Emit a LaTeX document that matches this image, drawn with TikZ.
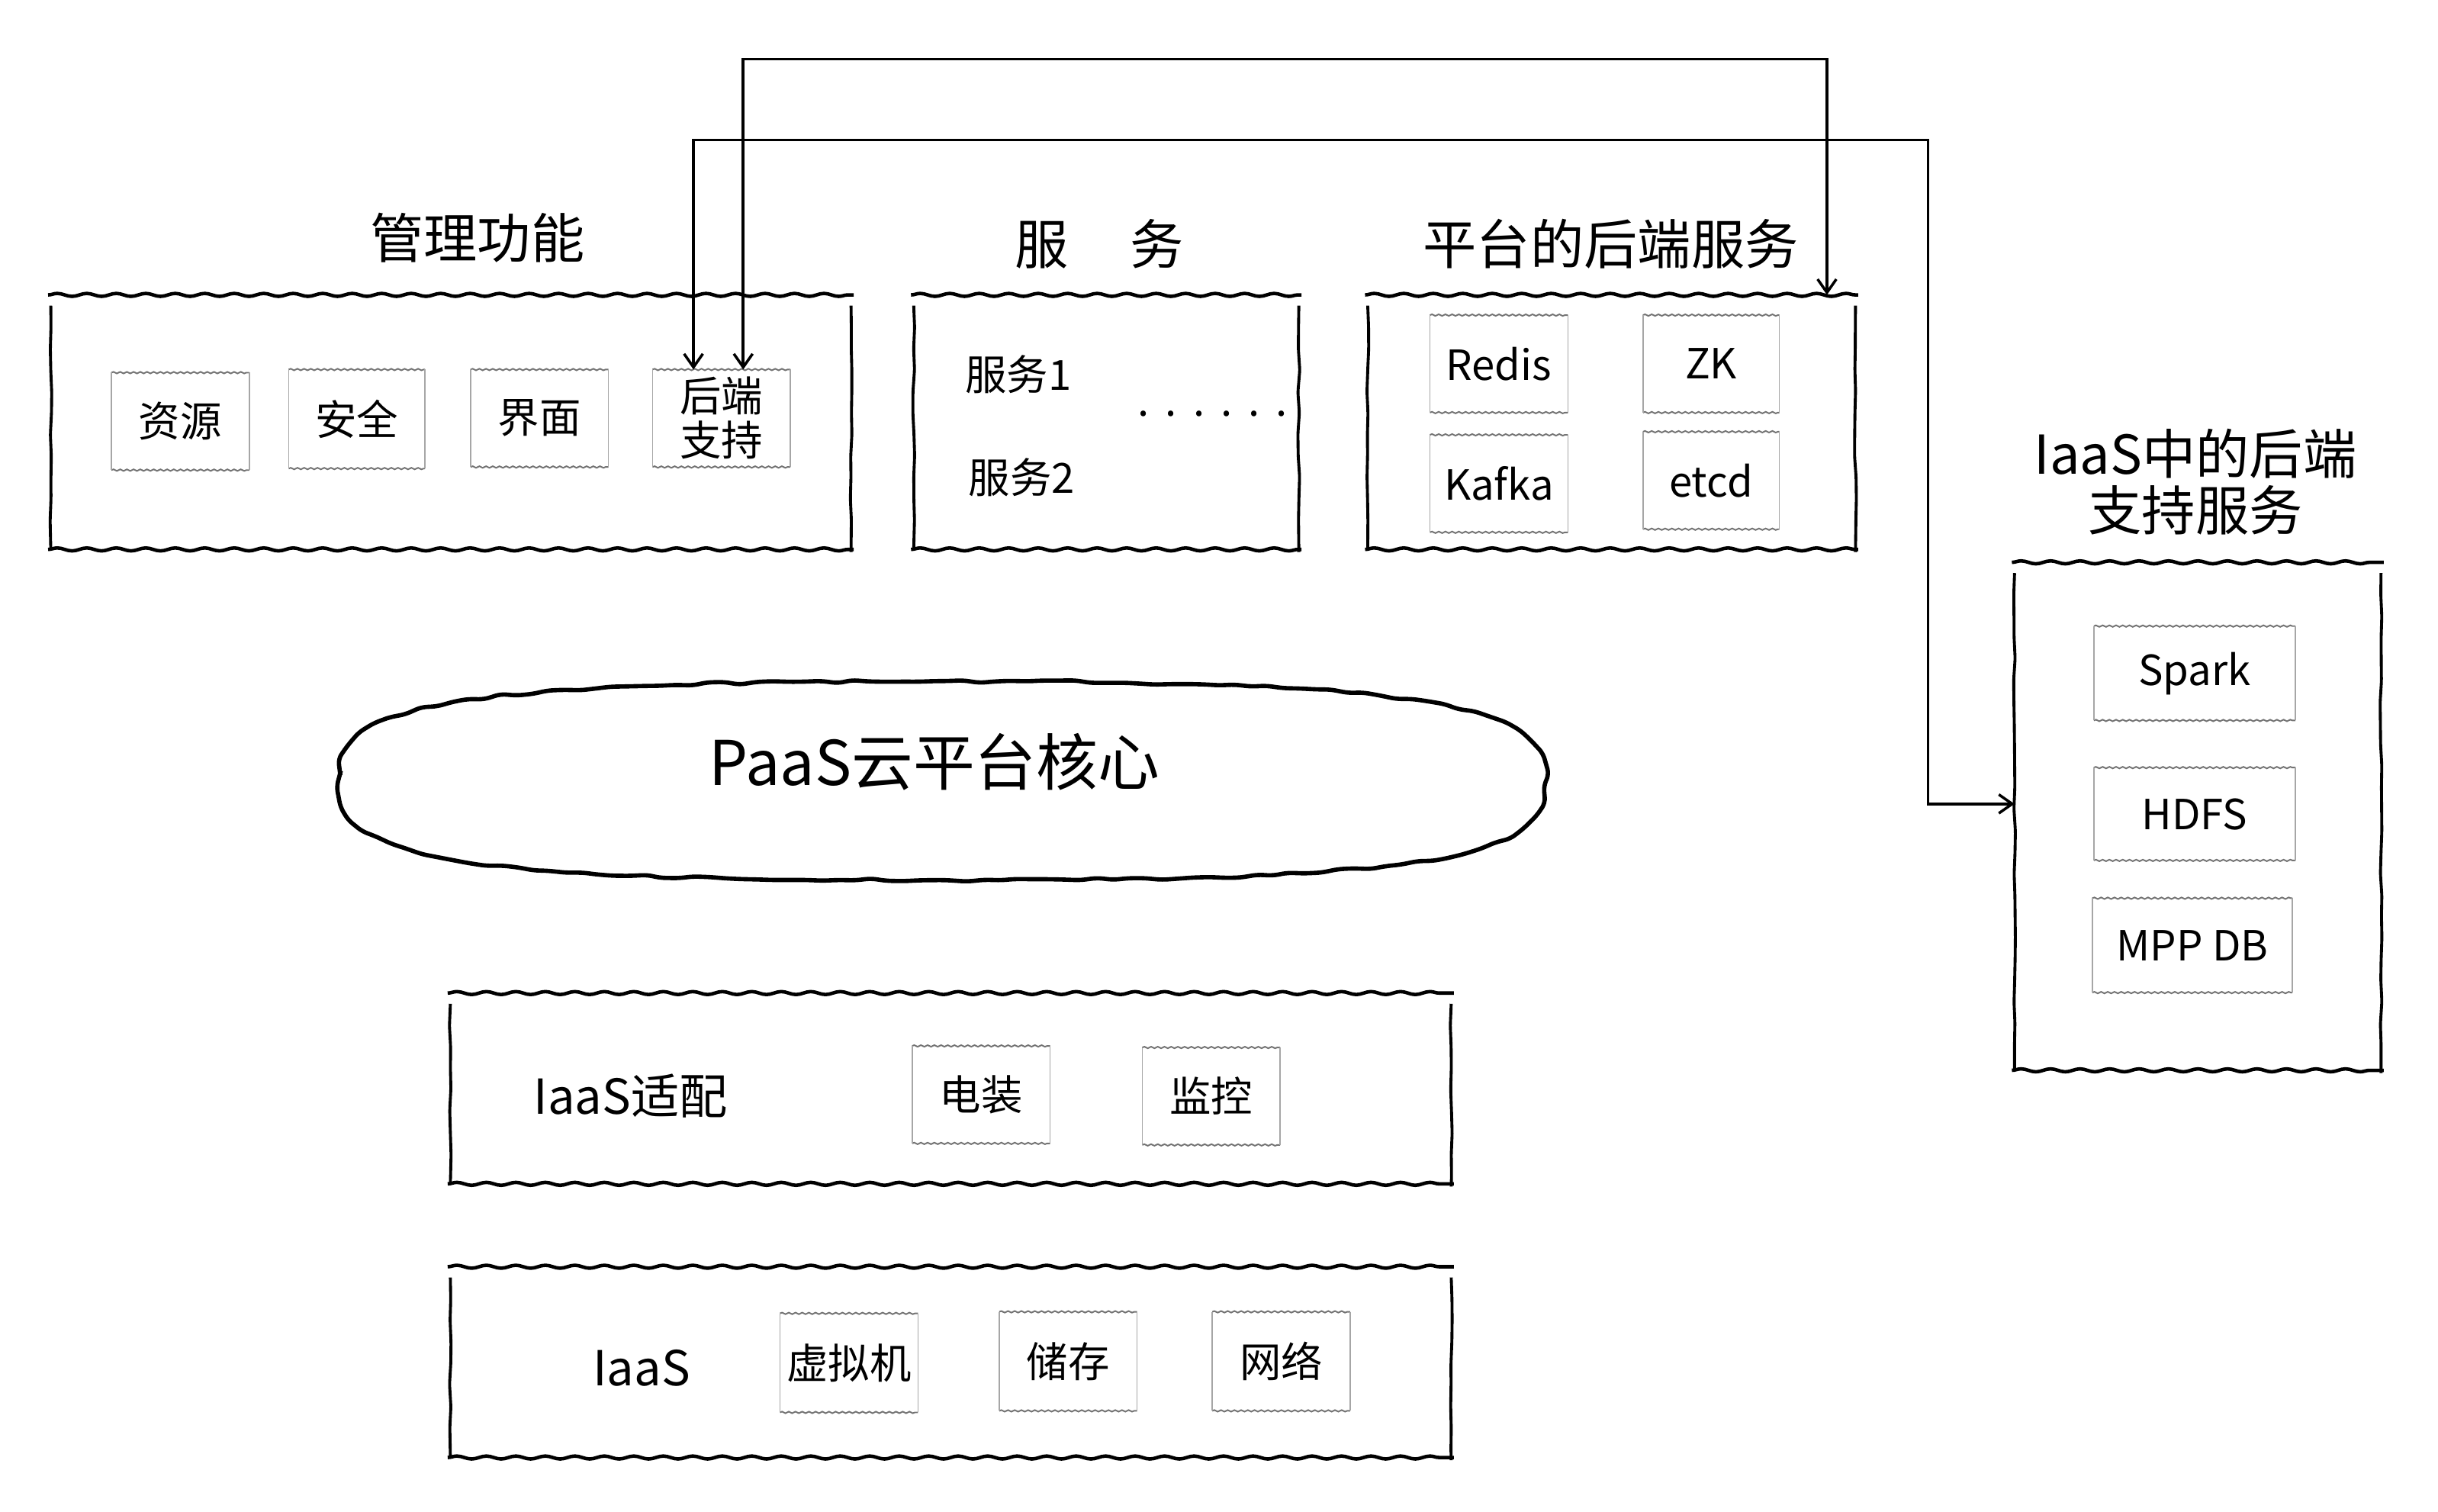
\documentclass[tikz,border=0pt]{standalone}
\usepackage{fontspec}
\setmainfont{Noto Sans CJK SC}
\usetikzlibrary{decorations.pathmorphing,fit,arrows.meta}
\newcommand\tsz{\fontsize{20pt}{21pt}\selectfont}
\newcommand\isz{\fontsize{15.5pt}{16.5pt}\selectfont}
\newcommand\lsz{\fontsize{18pt}{20pt}\selectfont}
\newcommand\mainedges[1]{%
  \draw[hedge] ([xshift=-1pt]#1.north west) -- ([xshift=1pt]#1.north east);
  \draw[hedge] ([xshift=-1pt]#1.south west) -- ([xshift=1pt]#1.south east);
  \draw[vedge] ([yshift=-4pt]#1.north west) -- (#1.south west);
  \draw[vedge] ([yshift=-4pt]#1.north east) -- ([yshift=-1pt]#1.south east);}
\newcommand\inneredges[1]{%
  \draw[ihedge] (#1.north west) -- (#1.north east);
  \draw[ihedge] (#1.south west) -- (#1.south east);
  \draw[ivedge] (#1.north west) -- (#1.south west);
  \draw[ivedge] (#1.north east) -- (#1.south east);}
\begin{document}
\begin{tikzpicture}[x=0.02038cm,y=-0.02038cm,
  mainbox/.style={inner sep=0pt},
  innerbox/.style={inner sep=0pt},
  hedge/.style={line width=1.3pt,decorate,
    decoration={snake,segment length=11pt,amplitude=0.55pt}},
  vedge/.style={line width=1.1pt,decorate,
    decoration={random steps,segment length=8pt,amplitude=0.35pt},rounded corners=1pt},
  ihedge/.style={draw=black!55,line width=0.55pt,decorate,
    decoration={snake,segment length=2.5pt,amplitude=0.3pt}},
  ivedge/.style={draw=black!35,line width=0.45pt},
  ilabel/.style={font=\isz,align=center},
  title/.style={font=\tsz,align=center,inner sep=0pt},
  plain/.style={inner sep=0pt},
  conn/.style={line width=1.1pt,{Straight Barb[length=5pt,width=7pt,line width=1pt]}-{Straight Barb[length=5pt,width=7pt,line width=1pt]}},
  cloudline/.style={line width=1.6pt,decorate,
    decoration={random steps,segment length=6pt,amplitude=0.6pt},rounded corners=2pt}]
\pgfmathsetseed{7}
\useasboundingbox (0,0) rectangle (1568,972);

% titles
\node[title] (t1) at (307,153) {管理功能};
\node[title] (t2) at (707,157) {服\hspace{1.15em}务};
\node[title] (t3) at (1036,157) {平台的后端服务};
\node[title] (t4) at (1412,310) {IaaS中的后端\\支持服务};

% main boxes
\node[mainbox,fit={(33,190)(547,353)}] (mg) {};
\node[mainbox,fit={(588,190)(835,353)}] (sv) {};
\node[mainbox,fit={(880,190)(1193,353)}] (pf) {};
\node[mainbox,fit={(1296,362)(1531,688)}] (ib) {};
\node[mainbox,fit={(290,639)(933,761)}] (ad) {};
\node[mainbox,fit={(290,815)(933,937)}] (ia) {};
\mainedges{mg}\mainedges{sv}\mainedges{pf}\mainedges{ib}\mainedges{ad}\mainedges{ia}

% management inner boxes
\node[innerbox,fit={(72,240)(160,302)},label={[ilabel]center:资源}] (zy) {};
\node[innerbox,fit={(186,238)(273,301)},label={[ilabel]center:安全}] (aq) {};
\node[innerbox,fit={(303,238)(391,300)},label={[ilabel]center:界面}] (jm) {};
\node[innerbox,fit={(420,238)(508,300)},label={[ilabel]center:后端\\支持}] (hd) {};

% services
\node[plain,font=\isz] (s1) at (655,241) {服务1};
\node[plain,font=\isz] (s2) at (657,307) {服务2};
\node[plain,font=\isz] (dots) at (780,266) {.\hspace{6pt}.\hspace{6pt}.\hspace{6pt}.\hspace{6pt}.\hspace{6pt}.};

% platform backend
\node[innerbox,fit={(920,203)(1008,265)},label={[ilabel]center:Redis}] (redis) {};
\node[innerbox,fit={(1057,203)(1144,265)},label={[ilabel]center:ZK}] (zk) {};
\node[innerbox,fit={(920,280)(1008,342)},label={[ilabel]center:Kafka}] (kafka) {};
\node[innerbox,fit={(1057,278)(1144,340)},label={[ilabel]center:etcd}] (etcd) {};

% IaaS backend
\node[innerbox,fit={(1347,403)(1476,463)},label={[ilabel]center:Spark}] (spark) {};
\node[innerbox,fit={(1347,494)(1476,553)},label={[ilabel]center:HDFS}] (hdfs) {};
\node[innerbox,fit={(1346,578)(1474,638)},label={[ilabel]center:MPP DB}] (mpp) {};

% cloud
\draw[cloudline] (219,502) .. controls (217,447) and (330,439) .. (605,438)
  .. controls (880,439) and (995,447) .. (993,502)
  .. controls (995,558) and (880,566) .. (605,566)
  .. controls (330,566) and (217,558) .. (219,502) -- cycle;
\node[plain,font=\fontsize{23pt}{25pt}\selectfont] (core) at (601,490) {PaaS云平台核心};

% IaaS adapter
\node[plain,font=\lsz,anchor=west] (adl) at (343,705) {IaaS适配};
\node[innerbox,fit={(587,673)(675,735)},label={[ilabel]center:电装}] (dz) {};
\node[innerbox,fit={(735,674)(823,736)},label={[ilabel]center:监控}] (jk) {};

% IaaS
\node[plain,font=\lsz,anchor=west] (ial) at (381,880) {IaaS};
\node[innerbox,fit={(502,845)(590,908)},label={[ilabel]center:虚拟机}] (xnj) {};
\node[innerbox,fit={(643,844)(731,907)},label={[ilabel]center:储存}] (cc) {};
\node[innerbox,fit={(780,844)(868,907)},label={[ilabel]center:网络}] (wl) {};

\foreach \n in {zy,aq,jm,hd,redis,zk,kafka,etcd,spark,hdfs,mpp,dz,jk,xnj,cc,wl}{\inneredges{\n}}

% connectors
\coordinate (c1a) at (478,38);
\coordinate (c1b) at (1175,38);
\coordinate (c2a) at (446,90);
\coordinate (c2b) at (1240,90);
\coordinate (c2c) at (1240,517);
\draw[conn] (hd.north -| c1a) -- (c1a) -- (c1b) -- (pf.north -| c1b);
\draw[conn] (hd.north -| c2a) -- (c2a) -- (c2b) -- (c2c) -- (ib.west |- c2c);
\end{tikzpicture}
\end{document}
